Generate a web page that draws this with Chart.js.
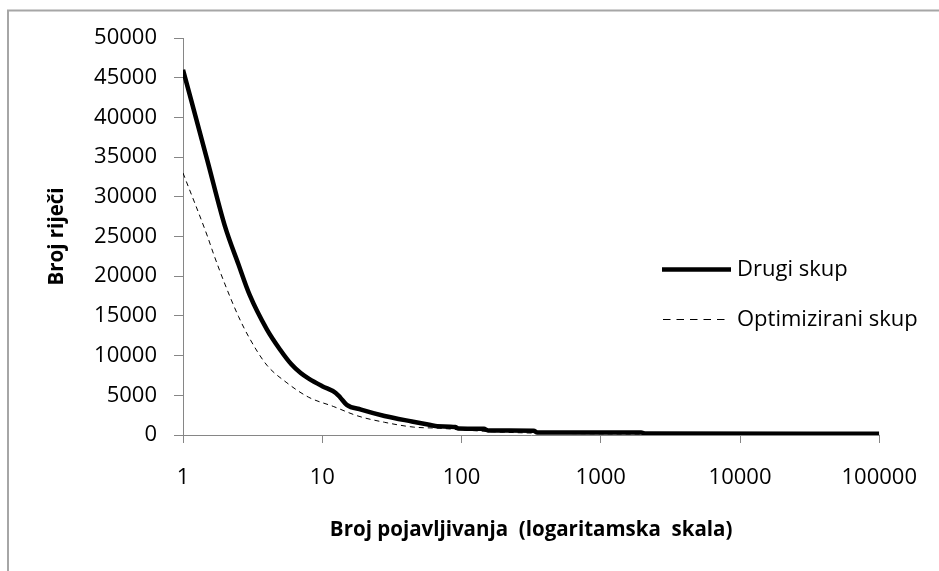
<!DOCTYPE html>
<html>
<head>
<meta charset="utf-8">
<script src="https://cdn.jsdelivr.net/npm/chart.js@4.4.1/dist/chart.umd.min.js"></script>
<style>
  body { margin: 0; background: #fff; }
  canvas { display: block; }
</style>
</head>
<body>
<canvas id="freq" width="939" height="571"></canvas>
<script>
// word counts by number of occurrences (x on a log scale)
const drugiX = [1, 1.5, 2, 2.5, 3, 4, 5, 6, 7, 8, 10, 12.5, 13.5, 15, 19, 28, 44, 60, 67, 90, 95, 145, 155, 330, 350, 1950, 2100, 100000];
const drugiY = [46000, 34500, 26300, 21500, 17700, 13300, 10700, 8900, 7800, 7100, 6150, 5300, 4700, 3800, 3200, 2400, 1700, 1250, 1100, 1000, 820, 780, 580, 540, 320, 300, 180, 150];

const optX = [1, 1.5, 1.65, 2, 2.5, 3, 4, 5.5, 8, 12, 18, 28, 45, 70, 100, 200, 1000, 100000];
const optY = [33000, 25000, 22900, 19000, 14950, 12200, 8800, 6650, 4750, 3600, 2400, 1600, 1000, 850, 650, 350, 150, 50];

const seriesNames = ['Drugi skup', 'Optimizirani skup'];
const xTicks = [1, 10, 100, 1000, 10000, 100000];
const yMin = 0;
const yMax = 50000;
const yStep = 5000;
const xTitle = 'Broj pojavljivanja  (logaritamska  skala)';
const yTitle = 'Broj riječi';

const FONT = '"Open Sans", sans-serif';
const AXIS_GREY = '#868686';

function toPoints(xs, ys) {
    return xs.map(function (x, i) { return { x: x, y: ys[i] }; });
}

// white page and the grey frame around the chart
const frame = {
    id: 'frame',
    beforeDraw(chart) {
        let ctx = chart.ctx;
        ctx.save();
        ctx.fillStyle = '#fff';
        ctx.fillRect(0, 0, chart.width, chart.height);
        ctx.strokeStyle = '#a6a6a6';
        ctx.lineWidth = 2;
        ctx.strokeRect(8, 10.5, 2000, 2000);
        ctx.restore();
    }
};

// legend sits inside the plot, on the right
const legendInside = {
    id: 'legendInside',
    afterDatasetsDraw(chart) {
        let ctx = chart.ctx;
        let rows = [{ x0: 662, x1: 731, y: 269.5 }, { x0: 663, x1: 728, y: 319.5 }];
        chart.data.datasets.forEach(function (ds, i) {
            let r = rows[i];
            let dash = (ds.borderDash || []).map(function (d) { return d * 1.5; });
            ctx.save();
            ctx.strokeStyle = ds.borderColor;
            ctx.lineWidth = ds.borderWidth;
            ctx.setLineDash(dash);
            ctx.beginPath();
            ctx.moveTo(r.x0, r.y);
            ctx.lineTo(r.x1, r.y);
            ctx.stroke();
            ctx.setLineDash([]);
            ctx.fillStyle = '#000';
            ctx.font = '22px ' + FONT;
            ctx.textBaseline = 'middle';
            ctx.fillText(ds.label, 737, r.y);
            ctx.restore();
        });
    }
};

let chart = new Chart(document.getElementById('freq'), {
    type: 'line',
    data: {
        datasets: [{
            label: seriesNames[0],
            data: toPoints(drugiX, drugiY),
            borderColor: '#000',
            borderWidth: 4.5,
            pointRadius: 0,
            cubicInterpolationMode: 'monotone'
        }, {
            label: seriesNames[1],
            data: toPoints(optX, optY),
            borderColor: '#000',
            borderWidth: 1,
            borderDash: [5, 4],
            pointRadius: 0,
            cubicInterpolationMode: 'monotone'
        }]
    },
    options: {
        responsive: false,
        animation: false,
        devicePixelRatio: 1,
        layout: { padding: { left: 0, right: 45, top: 38, bottom: 0 } },
        plugins: {
            legend: { display: false },
            tooltip: { enabled: false }
        },
        scales: {
            x: {
                type: 'logarithmic',
                min: 1,
                max: 100000,
                afterBuildTicks: function (axis) {
                    axis.ticks = xTicks.map(function (v) { return { value: v }; });
                },
                afterFit: function (axis) { axis.height = 571 - 435; },
                grid: { drawOnChartArea: false, tickLength: 8, color: AXIS_GREY },
                border: { color: AXIS_GREY },
                ticks: {
                    padding: 22,
                    color: '#000',
                    maxRotation: 0,
                    autoSkip: false,
                    font: { family: FONT, size: 22 },
                    callback: function (v) { return String(v); }
                },
                title: {
                    display: true,
                    text: xTitle,
                    color: '#000',
                    font: { family: FONT, size: 20.5, weight: 'bold' },
                    padding: { top: 0, bottom: 29 }
                }
            },
            y: {
                min: yMin,
                max: yMax,
                afterFit: function (axis) { axis.width = 183; },
                grid: { drawOnChartArea: false, tickLength: 9, color: AXIS_GREY },
                border: { color: AXIS_GREY },
                ticks: {
                    stepSize: yStep,
                    padding: 17,
                    color: '#000',
                    font: { family: FONT, size: 22 },
                    callback: function (v) { return String(v); }
                },
                title: {
                    display: true,
                    text: yTitle,
                    color: '#000',
                    font: { family: FONT, size: 20.5, weight: 'bold' },
                    padding: { top: 45, bottom: 0 }
                }
            }
        }
    },
    plugins: [frame, legendInside]
});
</script>
</body>
</html>
